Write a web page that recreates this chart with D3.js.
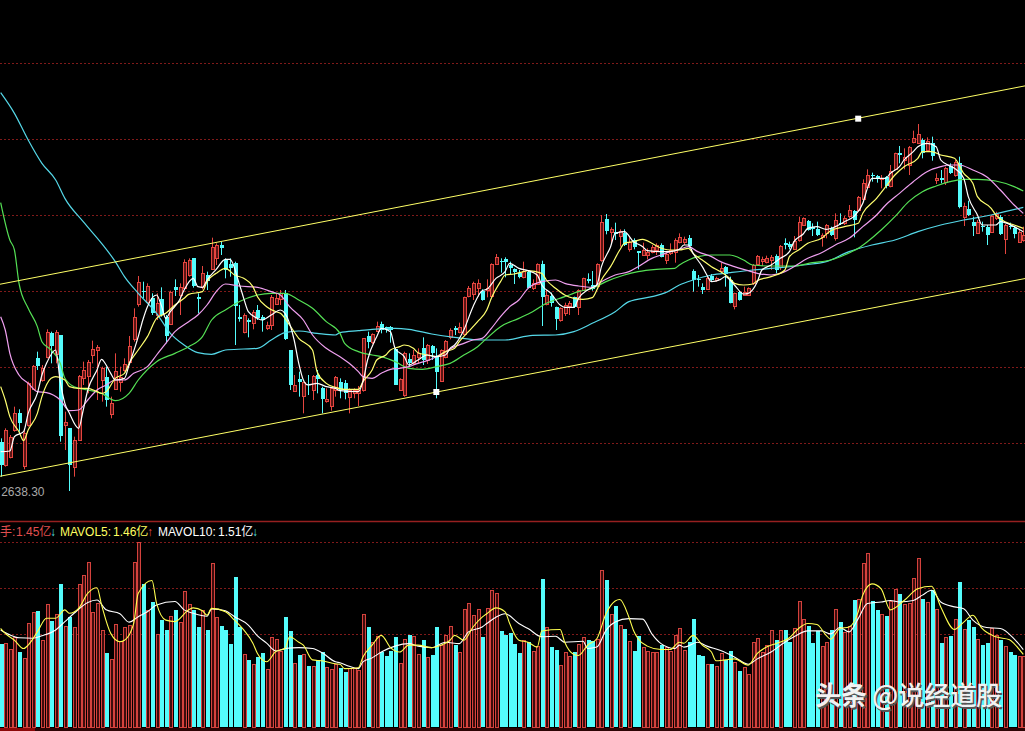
<!DOCTYPE html>
<html>
<head>
<meta charset="utf-8">
<script src="https://cdn.jsdelivr.net/npm/d3@7"></script>
<style>
html, body { margin: 0; padding: 0; background: #000; overflow: hidden; }
</style>
</head>
<body>
<div id="chart"></div>
<script>
// daily candles
const opens = [2786,2716,2741,2821,2871,2711,2836,2946,3036,2971,
  3041,3111,3051,3106,2836,2826,2711,2791,2976,2983,
  3046,3061,2971,2979,2871,2946,2966,3001,3026,3093,
  3199,3239,3206,3216,3166,3213,3161,3139,3249,3226,
  3249,3286,3336,3219,3249,3286,3306,3336,3376,3331,
  3318,3321,3161,3116,3151,3143,3181,3159,3126,3136,
  3201,3213,3231,3061,2939,2973,2923,2959,2941,2986,
  2946,2906,2891,2941,2966,2961,2921,2931,2931,2941,
  3103,3086,3119,3139,3129,3129,3063,2941,2926,3033,
  3023,3041,3066,3031,3073,3039,2969,3041,3099,3126,
  3116,3109,3221,3229,3246,3239,3241,3221,3319,3329,
  3333,3316,3303,3293,3281,3296,3246,3259,3319,3199,
  3223,3189,3149,3173,3195,3219,3191,3241,3273,3256,
  3253,3331,3453,3413,3416,3403,3413,3366,3391,3358,
  3346,3346,3356,3361,3376,3331,3351,3356,3383,3383,
  3396,3299,3273,3249,3246,3283,3271,3298,3311,3271,
  3191,3236,3226,3226,3261,3321,3329,3326,3331,3344,
  3311,3381,3379,3366,3391,3436,3449,3429,3423,3399,
  3411,3426,3396,3441,3441,3463,3479,3481,3516,3549,
  3586,3583,3573,3579,3553,3603,3651,3629,3616,3683,
  3683,3691,3663,3683,3571,3576,3563,3613,3586,3621,
  3461,3483,3446,3413,3433,3431,3416,3456,3461,3393,
  3433,3426,3386,3391];
const closes = [2716,2821,2801,2871,2841,2811,2961,3014,3011,3006,
  3116,3071,3116,2803,2846,2716,2791,2983,3001,3026,
  3063,3071,3006,2909,2903,2999,2981,3019,3074,3159,
  3266,3236,3253,3171,3201,3166,3103,3236,3239,3249,
  3326,3331,3251,3213,3291,3269,3371,3376,3368,3301,
  3306,3193,3156,3166,3146,3176,3156,3149,3136,3221,
  3218,3231,3093,2956,2956,2963,2966,2956,2983,2973,
  2913,2913,2946,2981,2941,2931,2941,2941,2941,3096,
  3086,3109,3133,3121,3121,3119,2956,2973,3051,3021,
  3046,3053,3031,3076,3051,2993,3061,3089,3121,3119,
  3131,3219,3246,3263,3261,3211,3246,3318,3339,3326,
  3323,3306,3293,3281,3299,3249,3261,3319,3221,3226,
  3203,3153,3186,3196,3203,3189,3241,3276,3267,3243,
  3318,3446,3416,3423,3411,3418,3376,3386,3371,3351,
  3361,3356,3371,3376,3341,3349,3361,3391,3399,3393,
  3371,3271,3269,3241,3278,3271,3276,3306,3291,3203,
  3231,3211,3236,3246,3316,3344,3334,3338,3341,3303,
  3374,3376,3369,3389,3446,3456,3421,3423,3406,3406,
  3436,3406,3451,3438,3456,3481,3451,3519,3563,3586,
  3583,3576,3576,3551,3599,3651,3646,3639,3671,3696,
  3709,3651,3689,3643,3576,3571,3606,3593,3626,3489,
  3493,3466,3433,3446,3431,3406,3463,3469,3409,3436,
  3429,3409,3416,3406];
const highs = [2796,2826,2806,2891,2883,2821,2966,3016,3056,3016,
  3123,3116,3121,3106,2876,2826,2801,2986,3026,3031,
  3089,3076,3011,3011,2921,3051,3011,3036,3103,3186,
  3283,3266,3261,3231,3231,3249,3166,3239,3273,3261,
  3333,3336,3336,3231,3313,3296,3398,3381,3386,3336,
  3336,3326,3196,3171,3156,3181,3196,3166,3146,3226,
  3231,3241,3241,3061,2986,2996,2966,2986,2986,3001,
  2951,2946,2949,2983,2976,2971,2946,2946,2953,3096,
  3116,3111,3146,3146,3131,3133,3066,2976,3056,3051,
  3061,3066,3099,3079,3076,3066,3063,3091,3126,3133,
  3143,3221,3253,3266,3273,3243,3273,3321,3349,3336,
  3339,3326,3306,3301,3326,3301,3273,3321,3329,3241,
  3233,3191,3189,3203,3208,3221,3243,3278,3291,3298,
  3321,3466,3469,3429,3443,3423,3423,3399,3396,3358,
  3383,3366,3376,3381,3381,3356,3381,3396,3411,3401,
  3406,3303,3286,3261,3281,3289,3281,3323,3313,3281,
  3233,3238,3251,3249,3319,3346,3341,3344,3346,3348,
  3376,3396,3386,3403,3461,3459,3451,3441,3446,3411,
  3439,3431,3471,3471,3463,3496,3481,3523,3573,3603,
  3593,3586,3586,3583,3616,3653,3673,3666,3673,3719,
  3739,3696,3699,3701,3591,3601,3611,3621,3631,3641,
  3503,3509,3461,3451,3446,3436,3466,3476,3466,3439,
  3443,3433,3421,3431];
const lows = [2681,2711,2736,2816,2816,2703,2831,2941,3001,2966,
  3036,3021,3021,2786,2761,2638,2681,2789,2956,2931,
  3021,2911,2906,2891,2856,2941,2936,2996,3016,3086,
  3191,3216,3201,3166,3151,3161,3081,3136,3223,3166,
  3243,3281,3248,3171,3243,3241,3304,3316,3346,3276,
  3281,3076,3146,3111,3099,3123,3151,3116,3121,3121,
  3196,3196,3091,2941,2936,2921,2871,2926,2911,2931,
  2871,2903,2879,2921,2916,2913,2871,2916,2893,2936,
  3066,3079,3116,3111,3113,3083,2956,2939,2921,3011,
  3016,3021,3016,3019,3031,2916,2966,3036,3093,3106,
  3111,3106,3219,3211,3221,3209,3219,3219,3316,3293,
  3279,3289,3259,3276,3276,3246,3241,3256,3133,3195,
  3191,3121,3146,3163,3166,3187,3166,3239,3261,3239,
  3249,3326,3408,3381,3391,3371,3373,3356,3363,3303,
  3343,3333,3351,3346,3339,3319,3346,3323,3381,3376,
  3366,3236,3251,3229,3243,3266,3266,3291,3251,3201,
  3183,3209,3223,3223,3256,3316,3313,3321,3301,3291,
  3301,3363,3363,3361,3386,3433,3419,3403,3403,3371,
  3396,3403,3389,3436,3436,3456,3399,3479,3513,3546,
  3566,3563,3546,3546,3549,3601,3621,3603,3586,3681,
  3681,3636,3661,3629,3559,3561,3556,3589,3581,3486,
  3433,3463,3403,3411,3416,3376,3414,3451,3406,3349,
  3423,3396,3383,3386];
// volume in millions of lots, last bar is the 1.45亿 of the legend
const volumes = [169,171,160,184,153,140,212,234,237,177,
  250,216,230,291,206,225,203,291,310,336,
  234,252,198,151,139,210,175,203,208,336,
  377,291,239,254,190,218,198,226,239,215,
  277,250,239,204,239,198,334,224,206,198,
  169,306,204,148,137,129,143,151,118,184,
  180,155,224,196,131,147,149,124,124,136,
  153,122,118,129,121,112,121,121,116,231,
  203,173,185,153,144,155,183,130,179,187,
  185,148,177,142,146,205,167,187,207,167,
  152,240,252,228,240,183,242,279,273,195,
  187,191,169,150,177,174,156,165,301,205,
  163,158,126,152,144,152,169,183,177,175,
  179,320,299,230,246,209,199,175,156,185,
  163,156,152,152,167,163,156,187,201,158,
  173,221,146,144,129,128,125,150,136,155,
  132,114,122,109,173,181,154,167,197,177,
  197,197,173,201,258,220,207,171,195,165,
  173,197,240,214,193,207,260,262,334,354,
  258,238,230,226,258,281,271,250,252,303,
  344,262,256,279,240,171,183,185,220,295,
  199,218,205,179,167,171,201,187,177,165,
  152,146,144,144];

// moving averages as [day, value], sampled from the lines in the picture
const ma5 = [[0,2756],[2,2758],[3,2801],[5,2816],[6,2871],[8,2931],[9,2986],[10,3021],[12,3061],[13,2966],[14,2901],[15,2871],[17,2826],[18,2881],[19,2941],[21,3001],[22,3033],[23,3016],[24,2991],[25,2971],[27,2976],[28,3016],[30,3101],[31,3151],[32,3191],[34,3226],[35,3196],[36,3156],[37,3176],[39,3211],[40,3241],[42,3276],[43,3251],[44,3249],[45,3271],[47,3303],[49,3333],[50,3333],[52,3261],[53,3216],[54,3176],[56,3156],[57,3151],[59,3166],[61,3181],[62,3171],[64,3091],[65,3021],[66,2971],[67,2956],[69,2961],[71,2951],[73,2946],[74,2939],
  [78,2936],[79,2966],[80,3031],[82,3101],[83,3126],[85,3116],[86,3066],[88,3041],[89,3016],[91,3031],[93,3046],[95,3041],[97,3046],[98,3066],[99,3076],[101,3121],[103,3191],[105,3239],[106,3243],[108,3276],[110,3296],[111,3321],[113,3306],[115,3299],[117,3286],[118,3256],[120,3231],[122,3196],[123,3189],[125,3189],[126,3216],[128,3241],[130,3256],[131,3311],[133,3371],[134,3411],[136,3416],[138,3386],[140,3371],[141,3359],[144,3356],[146,3356],[148,3363],
  [149,3376],[150,3376],[151,3351],[153,3311],[154,3286],[155,3266],[157,3273],[158,3281],[160,3256],[162,3229],[163,3231],[165,3266],[166,3301],[168,3316],[170,3336],[172,3356],[173,3386],[175,3409],[176,3426],[178,3431],[180,3423],[182,3431],[184,3446],[186,3461],[188,3501],[189,3546],[190,3576],[192,3576],[193,3576],[194,3591],[196,3611],[197,3631],[199,3656],[200,3671],[202,3681],[204,3671],[205,3631],[207,3613],[208,3606],[210,3576],[211,3521],[213,3466],[214,3436],[217,3436],[218,3446],[221,3431],[223,3416]];
const ma10 = [[0,2951],[1,2911],[2,2861],[4,2816],[5,2789],[6,2821],[8,2871],[9,2921],[11,2976],[12,2981],[14,2971],[15,2951],[17,2946],[19,2946],[21,2936],[22,2931],[23,2936],[25,2976],[27,2991],[28,3021],[30,3061],[32,3101],[34,3156],[36,3171],[38,3196],[40,3216],[41,3228],[44,3236],[45,3266],[47,3291],[49,3306],[51,3286],[53,3276],[55,3251],[56,3221],[58,3191],[60,3176],[61,3171],[63,3136],[65,3096],[68,3061],[69,2996],[71,2961],[73,2949],[75,2943],
  [78,2943],[79,2966],[81,3001],[82,3031],[84,3046],[85,3061],[87,3071],[88,3076],[90,3066],[91,3053],[93,3046],[95,3041],[97,3056],[99,3066],[100,3086],[102,3116],[104,3146],[106,3181],[107,3216],[109,3266],[110,3286],[112,3289],[114,3296],[115,3299],[118,3291],[119,3271],[121,3246],[123,3226],[125,3216],[127,3213],[129,3218],[130,3241],[131,3271],[133,3311],[135,3361],[136,3381],[138,3386],[140,3393],[142,3381],[143,3373],[146,3361],[148,3361],
  [150,3366],[151,3351],[153,3331],[155,3311],[157,3296],[159,3276],[160,3261],[162,3256],[164,3259],[165,3269],[168,3281],[171,3301],[172,3341],[174,3361],[176,3381],[179,3396],[181,3419],[184,3431],[187,3441],[188,3471],[191,3516],[193,3551],[195,3586],[197,3611],[200,3636],[201,3656],[203,3656],[205,3646],[208,3636],[210,3591],[212,3561],[213,3521],[216,3486],[217,3466],[219,3446],[221,3436],[223,3426]];
const ma20 = [[0,3161],[1,3121],[2,3051],[4,2986],[6,2961],[8,2936],[10,2933],[13,2911],[15,2879],[17,2881],[19,2911],[21,2941],[23,2956],[25,2971],[27,2971],[29,2991],[32,3011],[34,3046],[36,3081],[38,3116],[41,3146],[43,3166],[45,3196],[47,3236],[49,3259],[52,3253],[56,3249],[59,3236],[61,3226],[63,3191],[66,3151],[68,3106],[71,3066],[74,3041],
  [76,3021],[78,2996],[79,2981],[81,2976],[83,2991],[85,3003],[87,3006],[89,3011],[91,3021],[93,3029],[95,3041],[97,3056],[99,3071],[101,3081],[103,3091],[105,3096],[107,3126],[109,3161],[111,3191],[113,3211],[115,3246],[118,3266],[121,3271],[123,3261],[126,3253],[129,3249],[131,3266],[134,3286],[137,3296],[139,3311],[142,3336],[144,3346],[146,3356],[148,3363],
  [150,3371],[152,3356],[155,3341],[157,3326],[160,3311],[163,3299],[165,3291],[168,3286],[171,3296],[173,3311],[176,3336],[179,3353],[182,3376],[185,3396],[188,3431],[191,3466],[193,3496],[196,3531],[199,3566],[202,3596],[205,3611],[207,3616],[209,3616],[212,3601],[215,3581],[218,3541],[221,3496],[223,3471]];
const ma60 = [[0,3503],[2,3391],[3,3361],[4,3261],[6,3186],[8,3131],[9,3086],[11,3061],[13,3021],[14,2976],[16,2951],[19,2941],[22,2931],[25,2909],[28,2931],[30,2971],[34,3026],[38,3051],[41,3071],[44,3101],[46,3151],[49,3181],[52,3206],[56,3226],[59,3231],[62,3231],[65,3211],[68,3186],[71,3146],[74,3111],
  [75,3081],[78,3056],[81,3046],[83,3041],[86,3026],[89,3006],[92,3003],[95,3011],[98,3021],[101,3046],[104,3071],[106,3096],[109,3131],[113,3156],[116,3176],[119,3201],[123,3221],[126,3236],[129,3246],[132,3266],[136,3286],[139,3296],[143,3303],[147,3306],[148,3316],
  [150,3331],[152,3341],[155,3346],[159,3346],[162,3331],[164,3316],[168,3313],[173,3313],[177,3323],[181,3331],[184,3346],[187,3366],[189,3386],[192,3421],[195,3461],[198,3506],[201,3536],[204,3553],[207,3566],[210,3573],[213,3573],[217,3568],[221,3551],[223,3538]];
const ma120 = [[0,3833],[3,3771],[6,3691],[9,3621],[12,3571],[14,3516],[18,3446],[22,3381],[25,3326],[27,3281],[30,3231],[34,3171],[37,3111],[40,3076],[43,3053],[46,3048],[49,3061],[53,3064],[56,3066],[59,3091],[62,3113],[65,3118],[69,3111],[73,3106],
  [74,3113],[78,3119],[81,3123],[86,3126],[89,3123],[94,3109],[99,3099],[105,3091],[110,3091],[116,3105],[121,3106],[125,3116],[129,3141],[134,3176],[137,3206],[142,3221],[145,3233],[148,3256],
  [151,3271],[155,3286],[159,3293],[164,3301],[170,3308],[175,3316],[180,3326],[185,3356],[190,3376],[195,3391],[200,3416],[205,3436],[210,3451],[216,3466],[219,3476],[223,3489]];
const mavol5 = [[0,201],[1,191],[3,177],[5,160],[6,167],[8,194],[10,222],[12,222],[14,239],[15,232],[17,242],[19,273],[21,284],[22,249],[24,191],[26,174],[27,177],[29,211],[30,273],[33,299],[34,252],[36,218],[38,215],[41,239],[42,243],[44,237],[45,228],[46,242],[49,235],[51,218],[53,198],[55,171],[56,150],[58,133],[60,154],[62,160],[63,184],[65,173],[66,167],[68,137],[70,135],[73,129],[74,128],
  [75,119],[78,121],[79,143],[81,167],[83,187],[85,162],[87,153],[89,167],[91,167],[94,162],[96,167],[98,177],[99,187],[101,177],[103,204],[105,224],[106,231],[108,243],[110,235],[111,211],[113,177],[115,173],[117,163],[118,196],[122,199],[123,173],[125,148],[126,146],[128,167],[130,180],[132,231],[134,257],[135,260],[137,224],[138,197],[139,180],[141,165],[144,158],[146,158],[148,173],
  [149,171],[151,187],[153,167],[155,153],[156,135],[158,137],[160,139],[163,126],[165,150],[167,163],[169,170],[172,182],[174,201],[176,211],[178,209],[180,187],[181,179],[183,201],[185,204],[187,235],[188,269],[190,292],[192,282],[194,239],[197,258],[200,282],[203,287],[205,245],[208,199],[210,214],[212,228],[214,201],[217,184],[220,178],[221,170],[223,148]];
const mavol10 = [[0,198],[2,188],[4,182],[7,181],[9,186],[12,198],[14,215],[16,232],[19,254],[21,259],[23,239],[26,231],[28,214],[30,225],[32,235],[34,249],[38,256],[40,239],[42,232],[45,226],[46,241],[49,237],[51,225],[54,208],[56,186],[58,171],[60,155],[62,160],[65,162],[68,160],[70,152],[73,133],[74,131],
  [76,124],[78,119],[79,133],[81,141],[83,153],[86,165],[89,170],[91,165],[94,162],[97,173],[100,170],[102,194],[105,204],[106,211],[108,224],[110,231],[113,211],[115,201],[118,184],[121,185],[123,173],[127,175],[128,160],[130,163],[132,197],[134,214],[137,221],[140,220],[142,190],[144,170],[147,160],[148,167],
  [149,163],[152,173],[154,165],[157,156],[160,143],[163,128],[165,139],[168,153],[171,173],[173,184],[176,196],[179,196],[181,190],[183,203],[185,194],[187,221],[189,252],[192,255],[194,258],[196,255],[199,258],[201,269],[203,279],[205,255],[208,245],[210,241],[212,218],[215,203],[218,201],[221,180],[223,158]];

// hand drawn channel, with the two white handles
const channelUpper = [[-1,3256],[224,3855]];
const channelLower = [[-1,2680],[224,3277]];
const handles = [[187,3755],[95,2935]];

const priceGrid = [3922,3694,3466,3238,3010,2782];
const volumeGrid = [189,283,377];
const lowLabel = {day: 0, text: "2638.30"};
const legend = [
  {text: "手:", x: 0, fill: "#e05050"},
  {text: "1.45亿", x: 16, fill: "#e05050"},
  {text: "↓", x: 50, fill: "#4fe0e0"},
  {text: "MAVOL5:", x: 60, fill: "#ffff60"},
  {text: "1.46亿", x: 113, fill: "#ffff60"},
  {text: "↑", x: 147, fill: "#e84848"},
  {text: "MAVOL10:", x: 158, fill: "#ffffff"},
  {text: "1.51亿", x: 218, fill: "#ffffff"},
  {text: "↓", x: 252, fill: "#4fe0e0"}
];

const width = 1025, height = 731;
const RED = "#e5453f", CYAN = "#54fcfc";

const svg = d3.select("#chart")
  .append("svg")
  .attr("width", width)
  .attr("height", height)
  .style("display", "block")
  .style("background", "#000");

const x = d3.scaleLinear().domain([0, 223]).range([0.67, 1023.3]);
const yPrice = d3.scaleLinear().domain([2548, 4111]).range([521, 0]);
const yVol = d3.scaleLinear().domain([0, 408]).range([727, 527]);

const days = d3.range(opens.length);
const isUp = i => closes[i] >= opens[i];

// grid lines
svg.selectAll(".pgrid").data(priceGrid).enter().append("line")
  .attr("x1", 0).attr("x2", width)
  .attr("y1", d => Math.round(yPrice(d)) + 0.5)
  .attr("y2", d => Math.round(yPrice(d)) + 0.5)
  .attr("stroke", "#801a1a")
  .attr("stroke-dasharray", "2,2");
svg.selectAll(".vgrid").data(volumeGrid).enter().append("line")
  .attr("x1", 0).attr("x2", width)
  .attr("y1", d => Math.round(yVol(d)) + 0.5)
  .attr("y2", d => Math.round(yVol(d)) + 0.5)
  .attr("stroke", "#801a1a")
  .attr("stroke-dasharray", "2,2");

// panel separator and the strip at the bottom
svg.append("line").attr("x1", 0).attr("x2", width).attr("y1", 521.5).attr("y2", 521.5)
  .attr("stroke", "#962020").attr("stroke-width", 1.5);
svg.append("rect").attr("x", 0).attr("y", 728).attr("width", width).attr("height", 3).attr("fill", "#2c0404");
svg.append("rect").attr("x", 0).attr("y", 728).attr("width", 35).attr("height", 3).attr("fill", "#8c0808");

// volume bars
svg.selectAll(".vol").data(days).enter().append("rect")
  .attr("x", i => Math.round(x(i)) - 1 + (isUp(i) ? 0.5 : 0))
  .attr("y", i => Math.round(yVol(volumes[i])) + (isUp(i) ? 0.5 : 0))
  .attr("width", i => isUp(i) ? 3 : 4)
  .attr("height", i => Math.round(yVol(0)) - Math.round(yVol(volumes[i])))
  .attr("fill", i => isUp(i) ? "#3c0c0c" : CYAN)
  .attr("stroke", i => isUp(i) ? "#d4423d" : "none")
  .attr("shape-rendering", "crispEdges");

const curve = d3.line()
  .x(d => x(d[0]))
  .curve(d3.curveMonotoneX);

function drawLine(points, scale, color, w) {
  svg.append("path")
    .attr("d", curve.y(d => scale(d[1]))(points))
    .attr("fill", "none")
    .attr("stroke", color)
    .attr("stroke-width", w);
}

drawLine(mavol10, yVol, "#ffffff", 1.1);
drawLine(mavol5, yVol, "#ffff50", 1.1);

// candles
const candles = svg.selectAll(".candle").data(days).enter().append("g");
candles.append("line")
  .attr("x1", i => Math.round(x(i)) + 0.5)
  .attr("x2", i => Math.round(x(i)) + 0.5)
  .attr("y1", i => yPrice(highs[i]))
  .attr("y2", i => yPrice(lows[i]))
  .attr("stroke", i => isUp(i) ? RED : CYAN);
candles.append("rect")
  .attr("x", i => Math.round(x(i)) - 1 + (isUp(i) ? 0.5 : 0))
  .attr("y", i => Math.round(yPrice(Math.max(opens[i], closes[i]))) + (isUp(i) ? 0.5 : 0))
  .attr("width", i => isUp(i) ? 3 : 4)
  .attr("height", i => Math.max(1, Math.abs(yPrice(opens[i]) - yPrice(closes[i]))))
  .attr("fill", i => isUp(i) ? "#5a1414" : CYAN)
  .attr("stroke", i => isUp(i) ? RED : "none")
  .attr("shape-rendering", "crispEdges");

// moving averages
drawLine(ma120, yPrice, "#55d8e8", 1.2);
drawLine(ma60, yPrice, "#55e055", 1.2);
drawLine(ma20, yPrice, "#f0a0f0", 1.2);
drawLine(ma10, yPrice, "#ffff70", 1.2);
drawLine(ma5, yPrice, "#ffffff", 1.2);

// channel
const straight = d3.line().x(d => x(d[0])).y(d => yPrice(d[1]));
[channelUpper, channelLower].forEach(c => {
  svg.append("path").attr("d", straight(c))
    .attr("fill", "none").attr("stroke", "#ffff66").attr("stroke-width", 1);
});
svg.selectAll(".handle").data(handles).enter().append("rect")
  .attr("x", d => x(d[0]) - 3)
  .attr("y", d => yPrice(d[1]) - 3)
  .attr("width", 6).attr("height", 6)
  .attr("fill", "#fff");

// texts
svg.append("text")
  .attr("x", x(lowLabel.day) + 0.5)
  .attr("y", 496)
  .attr("fill", "#a8a8a8")
  .style("font", "12px 'Liberation Sans'")
  .text(lowLabel.text);

svg.selectAll(".legend").data(legend).enter().append("text")
  .attr("x", d => d.x)
  .attr("y", 536)
  .attr("fill", d => d.fill)
  .style("font", "12px 'Liberation Sans', 'Noto Sans CJK SC'")
  .text(d => d.text);

// watermark
[["#555", 1.5], ["#f2f2f2", 0]].forEach(([color, off]) => {
  svg.append("text").attr("x", 815 + off).attr("y", 705 + off).attr("fill", color)
    .style("font", "700 26px 'Noto Sans CJK SC'").text("头条");
  svg.append("text").attr("x", 872 + off).attr("y", 705 + off).attr("fill", color)
    .style("font", "500 27px 'Noto Sans CJK SC'").text("@");
  svg.append("text").attr("x", 898 + off).attr("y", 705 + off).attr("fill", color)
    .style("font", "500 26px 'Noto Sans CJK SC'").text("说经道股");
});
</script>
</body>
</html>
